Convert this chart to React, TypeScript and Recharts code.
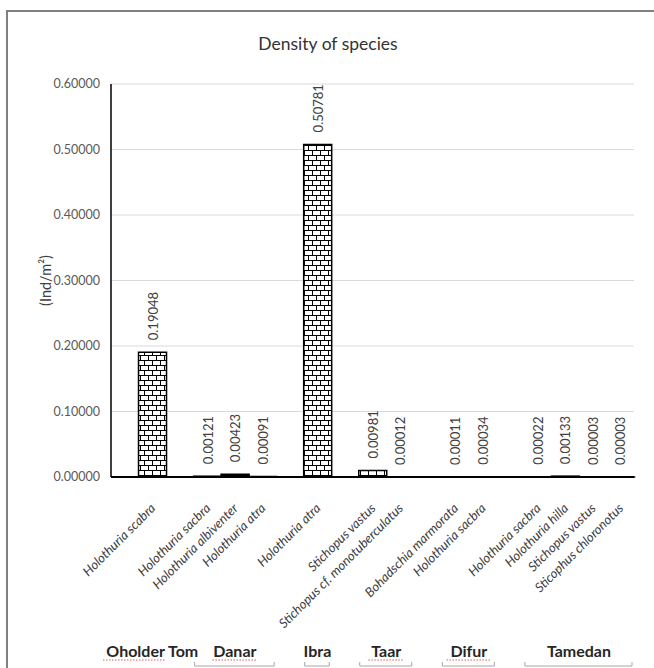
import { BarChart, Bar, XAxis, YAxis, CartesianGrid, LabelList } from "recharts";

// one slot per category; empty slots separate the sites
const species = [
  "",
  "Holothuria scabra",
  "",
  "Holothuria sacbra",
  "Holothuria albiventer",
  "Holothuria atra",
  "",
  "Holothuria atra",
  "",
  "Stichopus vastus",
  "Stichopus cf. monotuberculatus",
  "",
  "Bohadschia marmorata",
  "Holothuria sacbra",
  "",
  "Holothuria sacbra",
  "Holothuria hilla",
  "Stichopus vastus",
  "Sticophus chloronotus",
];

const density: (number | null)[] = [
  null, 0.19048, null, 0.00121, 0.00423, 0.00091, null, 0.50781, null,
  0.00981, 0.00012, null, 0.00011, 0.00034, null, 0.00022, 0.00133, 0.00003, 0.00003,
];

const yTicks = [0, 0.1, 0.2, 0.3, 0.4, 0.5, 0.6];

const sites = [
  { name: "Oholder Tom", first: 1, last: 1 },
  { name: "Danar", first: 3, last: 5 },
  { name: "Ibra", first: 7, last: 7 },
  { name: "Taar", first: 9, last: 10 },
  { name: "Difur", first: 12, last: 13 },
  { name: "Tamedan", first: 15, last: 18 },
];

// words the spell checker underlined in the original
const flagged = ["Oholder", "Danar", "Taar", "Difur"];

const data = species.map((name, i) => ({ id: `s${i}`, name, density: density[i] }));

const FONT = "Lato, 'Open Sans', sans-serif";
const SITE_SIZE = 16;

function SpeciesTick(props: any) {
  const { x, y, payload, width } = props;
  const i = props.index ?? payload.index;
  const slot = payload.offset ? payload.offset * 2 : width / species.length;
  const label = species[i];
  const site = sites.find((g) => i >= g.first && i <= g.last);
  const by = y + 189;
  const lx = x + 4;
  const ly = y + 32;
  const showBracket = site && site.name !== "Oholder Tom";
  let siteEl = null;
  if (site && i === site.first) {
    const cx = x + ((site.last - site.first) * slot) / 2;
    const ty = y + 180;
    const approxW = site.name.length * SITE_SIZE * 0.56;
    const firstWord = site.name.split(" ")[0];
    const flagW = firstWord.length * SITE_SIZE * 0.56;
    const x0 = cx - approxW / 2;
    siteEl = (
      <g>
        <text x={cx} y={ty} textAnchor="middle" fontSize={SITE_SIZE} fontWeight="bold" fill="#262626" fontFamily={FONT}>
          {site.name}
        </text>
        {flagged.includes(firstWord) && (
          <line x1={x0} x2={x0 + flagW} y1={ty + 3} y2={ty + 3} stroke="#e05a5a" strokeWidth={1} strokeDasharray="1.5 1.5" />
        )}
      </g>
    );
  }
  return (
    <g>
      {label && (
        <text
          x={lx}
          y={ly}
          transform={`rotate(-45 ${lx} ${ly})`}
          textAnchor="end"
          fontStyle="italic"
          fontSize={13}
          fill="#404040"
          fontFamily={FONT}
        >
          {label}
        </text>
      )}
      {showBracket && (
        <g stroke="#a6a6a6" strokeWidth={1}>
          <line
            x1={i === site.first ? x - slot / 2 + 1 : x - slot / 2}
            x2={i === site.last ? x + slot / 2 - 2 : x + slot / 2}
            y1={by}
            y2={by}
          />
          {i === site.first && <line x1={x - slot / 2 + 1} x2={x - slot / 2 + 1} y1={by} y2={by - 4} />}
          {i === site.last && <line x1={x + slot / 2 - 2} x2={x + slot / 2 - 2} y1={by} y2={by - 4} />}
        </g>
      )}
      {siteEl}
    </g>
  );
}

function ValueLabel(props: any) {
  const { x, y, width, value } = props;
  if (value == null) return null;
  const cx = Number(x) + Number(width) / 2;
  const ty = Number(y) - 12;
  return (
    <text
      x={cx}
      y={ty}
      transform={`rotate(-90 ${cx} ${ty})`}
      textAnchor="start"
      dominantBaseline="central"
      fontSize={13}
      fill="#404040"
      fontFamily={FONT}
    >
      {Number(value).toFixed(5)}
    </text>
  );
}

export default function App() {
  return (
    <div style={{ position: "absolute", left: 0, top: 0, width: 654, height: 668, background: "#fff", fontFamily: FONT }}>
      <div
        style={{
          position: "absolute",
          left: 6,
          top: 10,
          right: 0,
          bottom: 0,
          borderLeft: "2px solid #7f7f7f",
          borderTop: "2px solid #7f7f7f",
        }}
      />
      <div
        style={{
          position: "absolute",
          left: 0,
          width: 656,
          top: 33,
          textAlign: "center",
          fontSize: 17.5,
          color: "#333",
        }}
      >
        Density of species
      </div>
      <div style={{ position: "absolute", left: 0, top: 0 }}>
        <BarChart
          width={654}
          height={668}
          data={data}
          margin={{ top: 84, right: 20, left: 0, bottom: 0 }}
          barCategoryGap={0}
        >
          <defs>
            <pattern id="brick" width={8} height={10} patternUnits="userSpaceOnUse">
              <rect width={8} height={10} fill="#fff" />
              <path d="M0 0.5H8M0 5.5H8M0.5 0V5M4.5 5V10" stroke="#000" strokeWidth={1} />
            </pattern>
          </defs>
          <CartesianGrid vertical={false} stroke="#d9d9d9" />
          <XAxis
            dataKey="id"
            interval={0}
            height={191}
            tickLine={false}
            tickSize={0}
            tickMargin={0}
            axisLine={{ stroke: "#000", strokeWidth: 2 }}
            tick={<SpeciesTick />}
          />
          <YAxis
            width={111}
            domain={[0, 0.6]}
            ticks={yTicks}
            tickFormatter={(v: number) => v.toFixed(5)}
            tickLine={false}
            tickSize={0}
            tickMargin={11}
            axisLine={{ stroke: "#000", strokeWidth: 1.5 }}
            tick={{ fill: "#595959", fontSize: 12.5, fontFamily: FONT }}
            label={(p: any) => {
              const vb = p.viewBox || { y: 84, height: 393 };
              const cy = vb.y + vb.height / 2;
              return (
                <text
                  x={45}
                  y={cy}
                  transform={`rotate(-90 45 ${cy})`}
                  textAnchor="middle"
                  dominantBaseline="central"
                  fontSize={14.5}
                  fill="#404040"
                  fontFamily={FONT}
                >
                  (Ind/m²)
                </text>
              );
            }}
          />
          <Bar dataKey="density" fill="url(#brick)" stroke="#000" strokeWidth={1.5} isAnimationActive={false}>
            <LabelList dataKey="density" content={<ValueLabel />} />
          </Bar>
        </BarChart>
      </div>
    </div>
  );
}
